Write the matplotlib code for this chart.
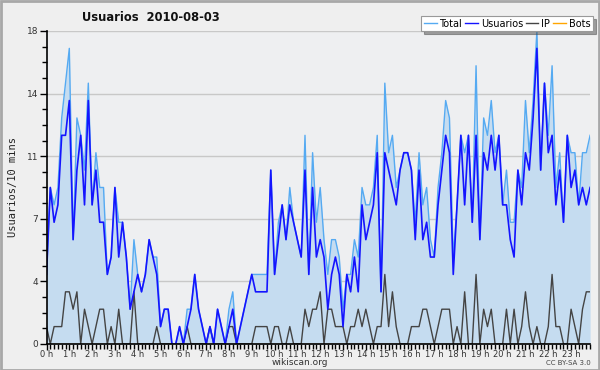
import matplotlib
matplotlib.use("Agg")
import matplotlib.pyplot as plt
from matplotlib.patches import Rectangle
from matplotlib.lines import Line2D

total = [4, 9, 8, 9, 13, 15, 17, 6, 13, 12, 10, 15, 8, 11, 9, 9, 4, 5, 9, 7,
         7, 5, 2, 6, 4, 3, 4, 6, 5, 5, 1, 2, 2, 0, 0, 1, 0, 2, 2, 4,
         2, 1, 0, 1, 0, 2, 1, 0, 2, 3, 0, 1, 2, 3, 4, 4, 4, 4, 4, 10,
         4, 7, 8, 6, 9, 7, 6, 5, 12, 4, 11, 7, 9, 6, 4, 6, 6, 5, 2, 4,
         4, 6, 5, 9, 8, 8, 9, 12, 3, 15, 11, 12, 9, 10, 11, 11, 10, 7, 11, 8,
         9, 6, 5, 9, 11, 14, 13, 5, 8, 12, 11, 12, 7, 16, 6, 13, 12, 14, 11, 12,
         8, 10, 7, 7, 10, 9, 14, 11, 14, 18, 10, 15, 12, 16, 9, 11, 7, 12, 11, 11,
         8, 11, 11, 12]
usuarios = [4, 9, 7, 8, 12, 12, 14, 6, 10, 12, 8, 14, 8, 10, 7, 7, 4, 5, 9, 5,
            7, 5, 2, 3, 4, 3, 4, 6, 5, 4, 1, 2, 2, 0, 0, 1, 0, 1, 2, 4,
            2, 1, 0, 1, 0, 2, 1, 0, 1, 2, 0, 1, 2, 3, 4, 3, 3, 3, 3, 10,
            4, 6, 8, 6, 8, 7, 6, 5, 10, 4, 9, 5, 6, 5, 2, 4, 5, 4, 1, 4,
            3, 5, 3, 8, 6, 7, 8, 11, 3, 11, 10, 9, 8, 10, 11, 11, 10, 6, 10, 6,
            7, 5, 5, 8, 10, 12, 11, 4, 8, 12, 8, 12, 7, 12, 6, 11, 10, 12, 10, 12,
            8, 8, 6, 5, 10, 8, 11, 10, 13, 17, 10, 15, 11, 12, 8, 10, 7, 12, 9, 10,
            8, 9, 8, 9]
ip = [1, 0, 1, 1, 1, 3, 3, 2, 3, 0, 2, 1, 0, 1, 2, 2, 0, 1, 0, 2,
      0, 0, 0, 3, 0, 0, 0, 0, 0, 1, 0, 0, 0, 0, 0, 0, 0, 1, 0, 0,
      0, 0, 0, 1, 0, 0, 0, 0, 1, 1, 0, 0, 0, 0, 0, 1, 1, 1, 1, 0,
      1, 1, 0, 0, 1, 0, 0, 0, 2, 1, 2, 2, 3, 0, 2, 2, 1, 1, 1, 0,
      1, 1, 2, 1, 2, 1, 0, 1, 1, 4, 1, 3, 1, 0, 0, 0, 1, 1, 1, 2,
      2, 1, 0, 1, 2, 2, 2, 0, 1, 0, 3, 0, 0, 4, 0, 2, 1, 2, 0, 0,
      0, 2, 0, 2, 0, 1, 3, 1, 0, 1, 0, 0, 1, 4, 1, 1, 0, 0, 2, 1,
      0, 2, 3, 3]
bots = [0] * 144
hour_labels = [f"{h} h" for h in range(24)]
ytick_values = [0, 3.6, 7.2, 10.8, 14.4, 18]
ytick_labels = ["0", "4", "7", "11", "14", "18"]

x = list(range(len(total)))

fig = plt.figure(figsize=(6, 3.7), dpi=100, facecolor="#efefef")
ax = fig.add_axes([0.0775, 0.0703, 0.906, 0.846])
ax.set_facecolor("#eeeff1")

ax.fill_between(x, 0, total, color="#c5dcf0", zorder=1, linewidth=0)
ax.plot(x, bots, color="#ffa500", lw=1, zorder=1.5)
ax.plot(x, ip, color="#444444", lw=1, zorder=2)
ax.plot(x, total, color="#55aaf2", lw=1, zorder=3)
ax.plot(x, usuarios, color="#1414ff", lw=1.2, zorder=4)

ax.set_xlim(0, 143)
ax.set_ylim(0, 18)
ax.set_xticks(range(0, 144, 6))
ax.set_xticklabels(hour_labels, fontsize=6, color="#333333")
ax.set_xticks(range(0, 144), minor=True)
ax.set_yticks(ytick_values)
ax.set_yticklabels(ytick_labels, fontsize=6.5, color="#333333")
ax.set_yticks([i * 0.9 for i in range(21)], minor=True)
ax.tick_params(axis="x", which="major", length=4, width=1, color="black", pad=0)
ax.tick_params(axis="x", which="minor", length=3.5, width=1, color="black")
ax.tick_params(axis="y", which="major", length=5, width=1, color="black", pad=1)
ax.tick_params(axis="y", which="minor", length=3.5, width=1, color="black")
ax.grid(axis="y", color="#c8c8c8", lw=1, zorder=0)
ax.set_axisbelow(True)
for s in ["top", "right"]:
    ax.spines[s].set_visible(False)
for s in ["left", "bottom"]:
    ax.spines[s].set_linewidth(1.2)
    ax.spines[s].set_zorder(5)

ax.set_ylabel("Usuarios/10 mins", family="DejaVu Sans Mono", fontsize=7.5,
              color="#222222", labelpad=6)

fig.text(0.252, 0.953, "Usuarios  2010-08-03", fontsize=8.3, fontweight="bold",
         ha="center", va="center", color="#111111")
fig.text(0.5, 0.019, "wikiscan.org", fontsize=6.5, ha="center", va="center",
         color="#333333")
fig.text(0.985, 0.019, "CC BY-SA 3.0", fontsize=5, ha="right", va="center",
         color="#444444")

handles = [Line2D([], [], color="#55aaf2", lw=1),
           Line2D([], [], color="#1414ff", lw=1),
           Line2D([], [], color="#444444", lw=1),
           Line2D([], [], color="#ffa500", lw=1)]
leg = fig.legend(handles, ["Total", "Usuarios", "IP", "Bots"], ncol=4,
                 loc="upper right", bbox_to_anchor=(0.988, 0.956),
                 fontsize=7, frameon=True, fancybox=False, shadow=True,
                 handlelength=1.3, handletextpad=0.3, columnspacing=0.3,
                 borderpad=0.25, borderaxespad=0)
leg.get_frame().set_edgecolor("#999999")
leg.get_frame().set_linewidth(0.8)

fig.patches.append(Rectangle((0.001, 0.001), 0.997, 0.996, transform=fig.transFigure,
                             fill=False, edgecolor="#a8a8a8", lw=2))

fig.savefig("out.png", dpi=100, facecolor=fig.get_facecolor())
